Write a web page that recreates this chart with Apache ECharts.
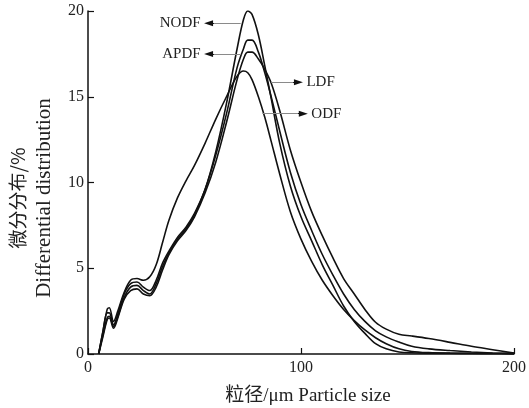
<!DOCTYPE html>
<html>
<head>
<meta charset="utf-8">
<script src="https://cdn.jsdelivr.net/npm/echarts@6/dist/echarts.min.js"></script>
<style>html,body{margin:0;padding:0;background:#fff;}#c{width:529px;height:408px;}</style>
</head>
<body>
<div id="c"></div>
<script>
// Particle size grid (μm)
const sizes = [5,7,9,10,12,14,17,20,23,26,29,32,35,38,42,46,50,55,60,65,70,73,75,77,80,83,86,90,95,100,105,110,115,120,125,130,135,140,146,152,160,170,180,190,200];
const seriesNames = ['NODF','APDF','LDF','ODF'];
const nodf = [0,1.3,2.4,2.4,1.7,2.3,3.5,4.1,4.2,3.9,3.7,4.3,5.3,6.0,6.8,7.4,8.2,9.6,11.8,14.6,17.8,19.5,20.0,19.8,18.6,16.8,14.9,12.3,9.8,8.0,6.6,5.2,4.0,2.8,1.9,1.2,0.6,0.3,0.12,0.07,0.05,0.04,0.03,0.03,0.02];
const apdf = [0,1.1,2.1,2.2,1.6,2.2,3.3,3.9,4.0,3.7,3.5,4.1,5.1,5.9,6.7,7.3,8.1,9.6,11.6,14.0,16.7,17.8,18.3,18.3,17.6,16.4,15.0,13.0,10.6,8.7,7.2,5.8,4.6,3.5,2.6,1.9,1.35,1.0,0.7,0.45,0.3,0.2,0.12,0.06,0.02];
const ldf  = [0,1.0,2.0,2.1,1.5,2.1,3.2,3.7,3.8,3.5,3.4,3.9,4.9,5.8,6.6,7.2,8.0,9.4,11.2,13.5,16.0,17.2,17.6,17.6,17.2,16.6,15.8,14.2,11.9,10.0,8.3,6.9,5.6,4.4,3.5,2.6,1.85,1.45,1.15,1.05,0.9,0.68,0.45,0.25,0.05];
const odf  = [0,1.3,2.6,2.7,1.9,2.5,3.6,4.3,4.4,4.3,4.5,5.2,6.5,7.8,9.1,10.1,11.0,12.3,13.7,15.0,16.2,16.5,16.4,16.0,15.0,13.8,12.4,10.5,8.3,6.7,5.4,4.3,3.4,2.6,1.95,1.4,0.95,0.6,0.3,0.15,0.08,0.05,0.04,0.03,0.02];
const seriesValues = [nodf, apdf, ldf, odf];
// Label arrows: [from x, to x, y] in data units
const arrows = [
  [71.7, 56.6, 19.28],
  [71.9, 56.6, 17.5],
  [86.0, 98.8, 15.85],
  [81.9, 101.1, 14.01]
];
const xTicks = [0, 100, 200];
const yTicks = [0, 5, 10, 15, 20];

const serif = '"Liberation Serif", "DejaVu Serif", serif';
const chart = echarts.init(document.getElementById('c'), null, {renderer: 'canvas'});

const series = seriesNames.map((name, i) => {
  const a = arrows[i];
  const dir = a[1] > a[0] ? 1 : -1;
  return {
    name: name,
    type: 'line',
    smooth: 0.35,
    showSymbol: false,
    symbol: 'none',
    lineStyle: {color: '#111', width: 1.6},
    data: sizes.map((s, k) => [s, seriesValues[i][k]]),
    markLine: {
      silent: true,
      symbol: ['none', 'none'],
      lineStyle: {color: '#8a8a8a', width: 1, type: 'solid'},
      label: {show: false},
      emphasis: {disabled: true},
      data: [
        [
          {coord: [a[0], a[2]], symbol: 'none'},
          {coord: [a[1], a[2]], symbol: 'none'}
        ],
        [
          {coord: [a[1] - dir * 2.5, a[2]], symbol: 'none',
           lineStyle: {color: '#111', width: 1},
           label: {show: true, position: 'end', formatter: name, distance: 8,
                   color: '#222', fontFamily: serif, fontSize: 15}},
          {coord: [a[1], a[2]], symbol: 'triangle', symbolSize: [6, 9]}
        ]
      ]
    }
  };
});

chart.setOption({
  animation: false,
  grid: {left: 88, right: 14, top: 11, bottom: 54, containLabel: false},
  xAxis: {
    type: 'value', min: xTicks[0], max: xTicks[xTicks.length-1], interval: 100,
    axisLine: {show: true, lineStyle: {color: '#111', width: 1.5}},
    axisTick: {show: true, inside: true, length: 6, lineStyle: {color: '#111', width: 1.2}},
    axisLabel: {color: '#222', fontFamily: serif, fontSize: 16, margin: 6},
    splitLine: {show: false}
  },
  yAxis: {
    type: 'value', min: yTicks[0], max: yTicks[yTicks.length-1], interval: 5,
    axisLine: {show: true, lineStyle: {color: '#111', width: 1.5}},
    axisTick: {show: true, inside: true, length: 6, lineStyle: {color: '#111', width: 1.2}},
    axisLabel: {color: '#222', fontFamily: serif, fontSize: 16, margin: 4},
    splitLine: {show: false}
  },
  graphic: [
    {type: 'text', x: 18, y: 198, rotation: Math.PI/2,
     style: {text: '微分分布/%', fill: '#222', font: '19px "Noto Sans CJK SC", ' + serif, textAlign: 'center', textVerticalAlign: 'middle'}},
    {type: 'text', x: 44, y: 198, rotation: Math.PI/2,
     style: {text: 'Differential distribution', fill: '#222', font: '21px ' + serif, textAlign: 'center', textVerticalAlign: 'middle'}},
    {type: 'text', x: 308, y: 396,
     style: {text: '粒径/μm Particle size', fill: '#222', font: '19px ' + serif + ', "Noto Sans CJK SC"', textAlign: 'center', textVerticalAlign: 'middle'}}
  ],
  series: series
});
</script>
</body>
</html>
